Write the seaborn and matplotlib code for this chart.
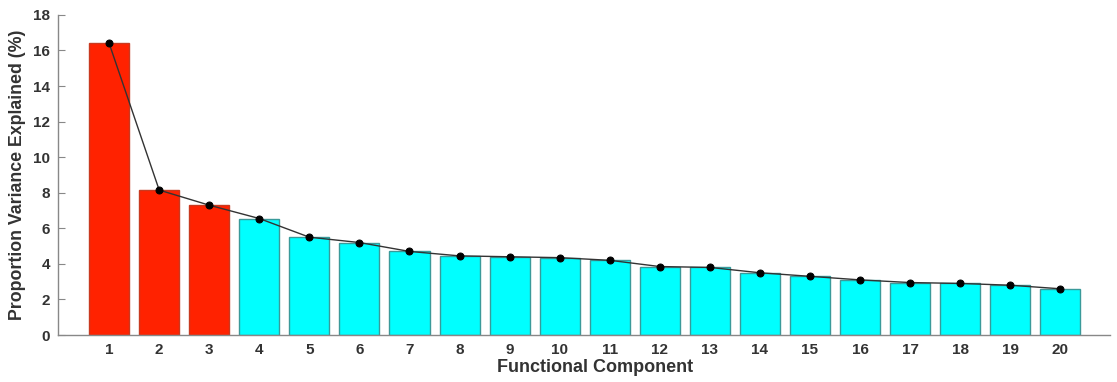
import matplotlib
matplotlib.use("Agg")
import matplotlib.pyplot as plt
import seaborn as sns
import pandas as pd

components = [str(i) for i in range(1, 21)]
variance = [16.4, 8.15, 7.3, 6.55, 5.5, 5.2, 4.7, 4.45, 4.4, 4.35,
            4.2, 3.85, 3.8, 3.5, 3.3, 3.1, 2.95, 2.9, 2.8, 2.6]
groups = ["selected"] * 3 + ["other"] * 17
palette = {"selected": "#FF2200", "other": "#00FFFF"}
edges = {"selected": "#C83A20", "other": "#3A9A9A"}

df = pd.DataFrame({"comp": components, "var": variance, "group": groups})

sns.set_theme(style="white")
plt.rcParams["font.family"] = ["Liberation Sans", "DejaVu Sans"]
plt.rcParams["font.weight"] = "bold"

fig = plt.figure(figsize=(11.17, 3.82), dpi=100)
ax = fig.add_axes([0.052, 0.123, 0.942, 0.838])

sns.barplot(data=df, x="comp", y="var", hue="group", palette=palette,
            dodge=False, width=0.8, legend=False, ax=ax, saturation=1)
for patch in ax.patches:
    if patch.get_height() <= 0:
        continue
    idx = int(round(patch.get_x() + patch.get_width() / 2))
    patch.set_edgecolor(edges[groups[idx]])
    patch.set_linewidth(1.0)

sns.pointplot(data=df, x="comp", y="var", color="black", markers="o",
              markersize=5, linewidth=1.0, ax=ax)
for line in ax.lines:
    line.set_color("#333333")
    line.set_markerfacecolor("black")
    line.set_markeredgecolor("black")

ax.set_xlim(-1.02, 20.0)
ax.set_ylim(0, 18)
ax.set_yticks(range(0, 19, 2))
ax.set_xlabel("Functional Component", fontsize=13, fontweight="bold", labelpad=2, color="#333333")
ax.xaxis.set_label_coords(0.51, -0.075)
ax.set_ylabel("Proportion Variance Explained (%)", fontsize=12.8, fontweight="bold", labelpad=5, color="#333333")
ax.tick_params(axis="y", direction="in", length=5, width=0.8, color="#888888",
               labelsize=11, pad=6, left=True)
ax.tick_params(axis="x", length=0, labelsize=11, pad=6)
for lab in ax.get_xticklabels() + ax.get_yticklabels():
    lab.set_fontweight("bold")
    lab.set_color("#333333")
for s in ["top", "right"]:
    ax.spines[s].set_visible(False)
for s in ["left", "bottom"]:
    ax.spines[s].set_color("#888888")
    ax.spines[s].set_linewidth(1.0)

fig.savefig("out.png", dpi=100)
